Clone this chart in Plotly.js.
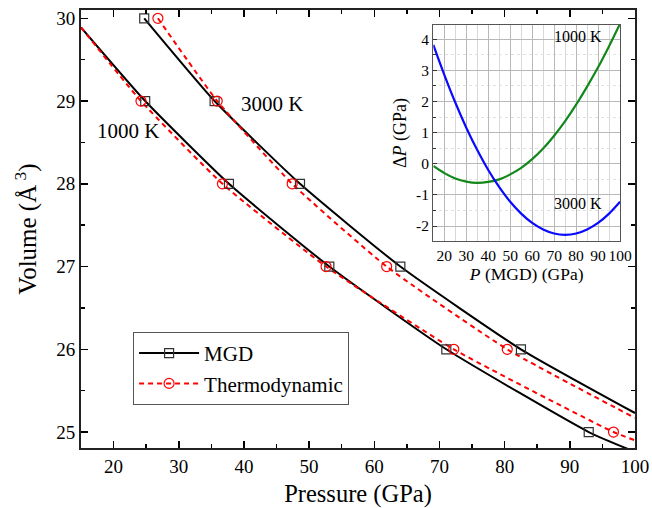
<!DOCTYPE html>
<html>
<head>
<meta charset="utf-8">
<script src="https://cdn.plot.ly/plotly-3.0.1.min.js"></script>
<style>html,body{margin:0;padding:0;background:#fff;}#chart{width:652px;height:508px;}</style>
</head>
<body>
<div id="chart"></div>
<script>
// ---- Main panel data: Volume (Å^3) vs Pressure (GPa) ----
const mgd1000_P = [15, 24.85, 37.7, 53.1, 71.05, 92.9, 100];
const mgd1000_V = [29.89, 29, 28, 27, 26, 25, 24.76];
const mgd1000_mark = [0, 1, 1, 1, 1, 1, 0];

const thermo1000_P = [15, 24.2, 36.7, 52.6, 72.2, 96.7, 100];
const thermo1000_V = [29.89, 29, 28, 27, 26, 25, 24.9];
const thermo1000_mark = [0, 1, 1, 1, 1, 1, 0];

const mgd3000_P = [24.7, 35.5, 48.6, 64.0, 82.5, 100];
const mgd3000_V = [30, 29, 28, 27, 26, 25.23];
const mgd3000_mark = [1, 1, 1, 1, 1, 0];

const thermo3000_P = [26.8, 35.9, 47.4, 61.9, 80.4, 100];
const thermo3000_V = [30, 29, 28, 27, 26, 25.17];
const thermo3000_mark = [1, 1, 1, 1, 1, 0];

// ---- Inset data: ΔP (GPa) vs P (MGD) (GPa) ----
const inset_P = [15, 20, 25, 30, 35, 40, 45, 50, 55, 60, 65, 70, 75, 80, 85, 90, 95, 100];
const dP_1000 = [-0.07, -0.30, -0.47, -0.57, -0.61, -0.58, -0.50, -0.34, -0.13, 0.15, 0.49, 0.90, 1.37, 1.90, 2.48, 3.10, 3.78, 4.50];
const dP_3000 = [3.82, 2.86, 1.97, 1.16, 0.44, -0.20, -0.75, -1.22, -1.60, -1.90, -2.11, -2.24, -2.28, -2.24, -2.11, -1.90, -1.60, -1.22];

const legendNames = ["MGD", "Thermodynamic"];
const insetYTicks = [-2, -1, 0, 1, 2, 3, 4];
const insetYTickText = ["-2", "-1", "0", "1", "2", "3", "4"];
const insetXTicks = [20, 30, 40, 50, 60, 70, 80, 90, 100];

const FONT = "Liberation Serif, Times New Roman, serif";
const BLACK = "#000";
const SQ = "#333";
const RED = "#ff0000";
const GREEN = "#12881a";
const BLUE = "#0a0aff";
const DASH = "5px,4px";

function pick(arr, mask) { return arr.filter((_, i) => mask[i]); }

function lineTrace(P, V, color, dash) {
  return {x: P, y: V, mode: "lines", type: "scatter", showlegend: false,
    line: {color: color, width: 2, dash: dash, shape: "spline", smoothing: 0.5},
    hoverinfo: "skip"};
}
function markTrace(P, V, mask, symbol, color, size) {
  return {x: pick(P, mask), y: pick(V, mask), mode: "markers", type: "scatter", showlegend: false,
    marker: {symbol: symbol, size: size, color: color, line: {color: color, width: 1.2}}, cliponaxis: false};
}

const traces = [
  lineTrace(mgd1000_P, mgd1000_V, BLACK, "solid"),
  lineTrace(mgd3000_P, mgd3000_V, BLACK, "solid"),
  lineTrace(thermo1000_P, thermo1000_V, RED, DASH),
  lineTrace(thermo3000_P, thermo3000_V, RED, DASH),
  markTrace(mgd1000_P, mgd1000_V, mgd1000_mark, "square-open", SQ, 9),
  markTrace(mgd3000_P, mgd3000_V, mgd3000_mark, "square-open", SQ, 9),
  markTrace(thermo1000_P, thermo1000_V, thermo1000_mark, "circle-open", RED, 10),
  markTrace(thermo3000_P, thermo3000_V, thermo3000_mark, "circle-open", RED, 10),
  {x: [null], y: [null], mode: "lines+markers", type: "scatter", name: legendNames[0],
    line: {color: BLACK, width: 2}, marker: {symbol: "square-open", size: 9, color: SQ, line: {width: 1.2}}},
  {x: [null], y: [null], mode: "lines+markers", type: "scatter", name: legendNames[1],
    line: {color: RED, width: 2, dash: DASH}, marker: {symbol: "circle-open", size: 10, color: RED, line: {width: 1.2}}},
  {x: inset_P, y: dP_1000, xaxis: "x2", yaxis: "y2", mode: "lines", type: "scatter", showlegend: false,
    line: {color: GREEN, width: 2.2, shape: "spline", smoothing: 1}},
  {x: inset_P, y: dP_3000, xaxis: "x2", yaxis: "y2", mode: "lines", type: "scatter", showlegend: false,
    line: {color: BLUE, width: 2.2, shape: "spline", smoothing: 1}}
];

const layout = {
  width: 652, height: 508,
  margin: {l: 81, r: 17, t: 10, b: 60, pad: 0},
  paper_bgcolor: "#fff", plot_bgcolor: "#fff",
  font: {family: FONT, size: 19, color: "#000"},
  showlegend: true,
  legend: {x: 0.094, y: 0.265, xanchor: "left", yanchor: "top", bgcolor: "#fff",
    bordercolor: "#555", borderwidth: 1, font: {family: FONT, size: 21}, tracegroupgap: 0,
    itemwidth: 60},
  xaxis: {domain: [0, 1], range: [15, 100], tickvals: [20, 30, 40, 50, 60, 70, 80, 90, 100],
    ticks: "inside", ticklen: 7, tickwidth: 1.5, tickcolor: "#000", mirror: "allticks",
    showline: true, linecolor: "#222", linewidth: 2, showgrid: false, zeroline: false,
    minor: {dtick: 5, tick0: 15, ticks: "inside", ticklen: 4, tickwidth: 1.5, tickcolor: "#000", showgrid: false},
    tickfont: {family: FONT, size: 19},
    title: {text: "Pressure (GPa)", font: {family: FONT, size: 24.5}, standoff: 10}},
  yaxis: {domain: [0, 1], range: [24.807, 30.1], tickvals: [25, 26, 27, 28, 29, 30],
    ticks: "inside", ticklen: 7, tickwidth: 1.5, tickcolor: "#000", mirror: "allticks",
    showline: true, linecolor: "#222", linewidth: 2, showgrid: false, zeroline: false,
    minor: {dtick: 0.5, tick0: 25, ticks: "inside", ticklen: 4, tickwidth: 1.5, tickcolor: "#000", showgrid: false},
    tickfont: {family: FONT, size: 19},
    title: {text: "Volume (Å<sup> 3</sup>)", font: {family: FONT, size: 25}, standoff: 12}},
  xaxis2: {anchor: "y2", domain: [0.636, 0.973], range: [15, 100], tickvals: insetXTicks,
    ticks: "", showline: true, linecolor: "#555", linewidth: 1.2, mirror: true,
    showgrid: true, gridcolor: "#b8b8b8", gridwidth: 1, zeroline: false,
    minor: {dtick: 5, tick0: 15, showgrid: true, gridcolor: "#d8d8d8", gridwidth: 1},
    tickfont: {family: FONT, size: 15.5},
    title: {text: "<i>P</i> (MGD) (GPa)", font: {family: FONT, size: 17.5}, standoff: 5}},
  yaxis2: {anchor: "x2", domain: [0.4726, 0.9658], range: [-2.48, 4.46], tickvals: insetYTicks,
    ticktext: insetYTickText, ticks: "inside", ticklen: 4, tickcolor: "#333",
    showline: true, linecolor: "#555", linewidth: 1.2, mirror: true,
    showgrid: true, gridcolor: "#b8b8b8", gridwidth: 1, zeroline: false,
    minor: {dtick: 0.5, tick0: 0, ticks: "inside", ticklen: 3, showgrid: true, gridcolor: "#e0e0e0", griddash: "dot", gridwidth: 1},
    tickfont: {family: FONT, size: 15.5},
    title: {text: "Δ<i>P</i> (GPa)", font: {family: FONT, size: 18}, standoff: 4}},
  annotations: [
    {xref: "x", yref: "y", x: 17.2, y: 28.64, text: "1000 K", showarrow: false, xanchor: "left",
      font: {family: FONT, size: 21}},
    {xref: "x", yref: "y", x: 39.2, y: 28.97, text: "3000 K", showarrow: false, xanchor: "left",
      font: {family: FONT, size: 21}},
    {xref: "x2", yref: "y2", x: 92.6, y: 4.08, text: "1000 K", showarrow: false, xanchor: "right",
      font: {family: FONT, size: 16}},
    {xref: "x2", yref: "y2", x: 92.6, y: -1.27, text: "3000 K", showarrow: false, xanchor: "right",
      font: {family: FONT, size: 16}}
  ]
};

Plotly.newPlot("chart", traces, layout, {displayModeBar: false, staticPlot: true});
</script>
</body>
</html>
